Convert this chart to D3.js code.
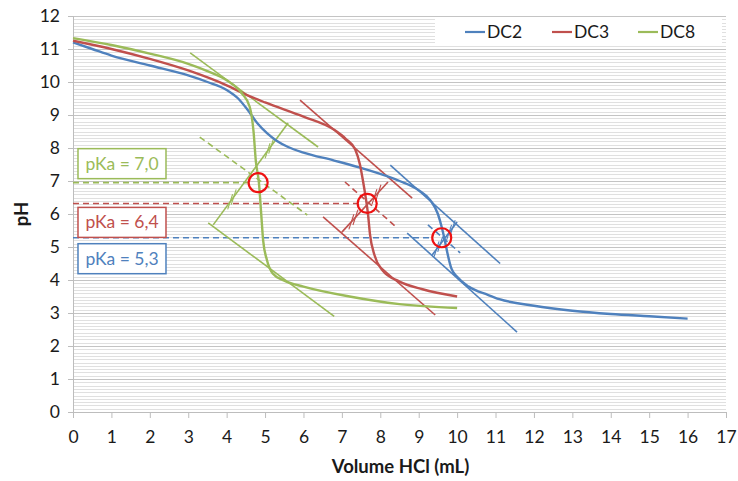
<!DOCTYPE html>
<html>
<head>
<meta charset="utf-8">
<script src="https://cdn.jsdelivr.net/npm/d3@7"></script>
<style>
  html, body { margin: 0; padding: 0; background: #fff; }
  svg { display: block; font-family: Lato, "Open Sans", sans-serif; }
</style>
</head>
<body>
<svg id="chart" width="738" height="481"></svg>
<script>
// ---------- data (volume HCl in mL, pH) ----------
const seriesNames = ["DC2", "DC3", "DC8"];
const xTicks = d3.range(0, 18, 1);
const yTicks = d3.range(0, 13, 1);

const dc2 = [[0,11.2],[0.5,11.0],[1,10.8],[2,10.5],[3,10.2],[3.5,10.0],[4,9.76],[4.3,9.5],[4.55,9.15],[4.8,8.75],[5.05,8.45],[5.3,8.22],[5.6,8.03],[6,7.86],[6.8,7.62],[7.6,7.36],[8.5,7.0],[9,6.72],[9.3,6.42],[9.5,6.0],[9.6,5.6],[9.68,5.2],[9.75,4.8],[9.85,4.35],[10,4.1],[10.3,3.8],[10.8,3.55],[11.1,3.42],[12,3.22],[13,3.07],[14,2.97],[15,2.9],[16,2.83]];
const dc3 = [[0,11.25],[1,11.0],[2,10.7],[3,10.35],[4,9.9],[4.5,9.62],[5,9.38],[6,8.95],[6.8,8.55],[7.1,8.28],[7.35,7.95],[7.47,7.5],[7.55,7.0],[7.62,6.5],[7.68,6.0],[7.73,5.4],[7.85,4.75],[8.05,4.3],[8.5,3.95],[9.1,3.72],[10,3.5]];
const dc8 = [[0,11.33],[1,11.12],[2,10.86],[3,10.55],[3.5,10.33],[4,10.05],[4.4,9.65],[4.6,9.25],[4.7,8.5],[4.76,7.6],[4.84,6.95],[4.9,6.0],[4.95,5.2],[5.05,4.6],[5.2,4.2],[5.5,3.98],[6,3.8],[7.2,3.5],[8.5,3.27],[10,3.15]];

// tangent construction (segment end points in data units)
const dc2Tangents = [[[8.26,7.48],[11.12,4.5]], [[8.7,5.42],[11.56,2.42]]];
const dc2Connector = [[9.35,4.76],[10.0,5.76]];
const dc2Mid = [[9.24,5.67],[10.08,4.82]];
const dc3Tangents = [[[5.91,9.45],[8.83,6.48]], [[6.51,5.91],[9.43,2.94]]];
const dc3Connector = [[7.0,5.45],[8.2,6.97]];
const dc3Mid = [[7.08,6.97],[8.44,5.58]];
const dc8Tangents = [[[3.05,10.88],[6.38,8.03]], [[3.52,5.73],[6.8,2.9]]];
const dc8Connector = [[3.65,5.67],[5.6,8.76]];
const dc8Mid = [[3.3,8.33],[6.1,5.97]];

// equivalence-half points (pKa) and labels
const pkaPoints = [[9.6,5.28],[7.66,6.32],[4.82,6.95]];
const pkaLabels = ["pKa = 5,3", "pKa = 6,4", "pKa = 7,0"];
const pkaBoxTop = [5.1, 6.2, 7.98]; // pH of label box top edge

// ---------- layout ----------
const colors = ["#4f81bd", "#c0504d", "#9bbb59"];
const svg = d3.select("#chart");
const x = d3.scaleLinear().domain([0, 17]).range([73, 726]);
const y = d3.scaleLinear().domain([0, 12]).range([412, 16]);

// gridlines
const minor = d3.range(0, 120).map(i => i / 10).filter(v => Math.abs(v - Math.round(v)) > 1e-6);
svg.append("g").selectAll("line").data(minor).join("line")
  .attr("x1", x(0)).attr("x2", x(17))
  .attr("y1", d => Math.round(y(d)) + 0.5).attr("y2", d => Math.round(y(d)) + 0.5)
  .attr("stroke", "#e0e0e0").attr("stroke-width", 1);
svg.append("g").selectAll("line").data(yTicks.slice(1)).join("line")
  .attr("x1", x(0)).attr("x2", x(17))
  .attr("y1", d => Math.round(y(d)) + 0.5).attr("y2", d => Math.round(y(d)) + 0.5)
  .attr("stroke", "#c4c4c4").attr("stroke-width", 1);

// axes
const yAxis = svg.append("g").attr("transform", `translate(${x(0)},0)`)
  .call(d3.axisLeft(y).tickValues(yTicks).tickSize(5).tickPadding(8).tickFormat(d3.format("d")));
const xAxis = svg.append("g").attr("transform", `translate(0,${y(0)})`)
  .call(d3.axisBottom(x).tickValues(xTicks).tickSize(6).tickPadding(13).tickFormat(d3.format("d")));
[yAxis, xAxis].forEach(g => {
  g.select(".domain").attr("stroke", "#bdbdbd");
  g.selectAll(".tick line").attr("stroke", "#bdbdbd");
  g.selectAll("text").attr("fill", "#1a1a1a").style("font-size", "17.5px").style("font-family", "Lato, sans-serif");
});

// axis titles
svg.append("text").attr("x", (x(0) + x(17)) / 2 + 1).attr("y", 473)
  .attr("text-anchor", "middle").style("font-weight", "bold").style("font-size", "18.5px")
  .attr("fill", "#1a1a1a").text("Volume HCl (mL)");
svg.append("text").attr("transform", `translate(28,${(y(0) + y(12)) / 2}) rotate(-90)`)
  .attr("text-anchor", "middle").style("font-weight", "bold").style("font-size", "18.5px")
  .attr("fill", "#1a1a1a").text("pH");

// legend box
const lg = svg.append("g");
lg.append("rect").attr("x", 435).attr("y", 18).attr("width", 287).attr("height", 27).attr("fill", "#fff");
const legendX = [465, 552, 638];
seriesNames.forEach((n, i) => {
  lg.append("line").attr("x1", legendX[i]).attr("x2", legendX[i] + 20).attr("y1", 32).attr("y2", 32)
    .attr("stroke", colors[i]).attr("stroke-width", 2.2);
  lg.append("text").attr("x", legendX[i] + 22).attr("y", 38).style("font-size", "17.5px")
    .attr("fill", "#1a1a1a").text(n);
});

const line = d3.line().x(d => x(d[0])).y(d => y(d[1]));
const curve = d3.line().x(d => x(d[0])).y(d => y(d[1])).curve(d3.curveMonotoneX);

// pKa dashed horizontals and label boxes
pkaPoints.forEach((p, i) => {
  svg.append("path").attr("d", line([[0, p[1]], [p[0] - 0.25, p[1]]]))
    .attr("stroke", colors[i]).attr("stroke-width", 1.6).attr("stroke-dasharray", "6,4").attr("fill", "none");
  const bx = x(0.13), by = y(pkaBoxTop[i]);
  svg.append("rect").attr("x", bx).attr("y", by).attr("width", 88).attr("height", 30)
    .attr("fill", "#fff").attr("stroke", colors[i]).attr("stroke-width", 1.5);
  svg.append("text").attr("x", bx + 44).attr("y", by + 21).attr("text-anchor", "middle")
    .style("font-size", "17.5px").attr("fill", colors[i]).text(pkaLabels[i]);
});

// tangent constructions
const constructions = [
  [dc2Tangents, dc2Connector, dc2Mid],
  [dc3Tangents, dc3Connector, dc3Mid],
  [dc8Tangents, dc8Connector, dc8Mid]
];
constructions.forEach(([tans, con, mid], i) => {
  const g = svg.append("g").attr("stroke", colors[i]).attr("fill", "none");
  tans.forEach(t => g.append("path").attr("d", line(t)).attr("stroke-width", 1.6));
  g.append("path").attr("d", line(con)).attr("stroke-width", 1.6);
  g.append("path").attr("d", line(mid)).attr("stroke-width", 1.6).attr("stroke-dasharray", "6,4");
  // hatch marks at quarter points of the connector
  const x0 = x(con[0][0]), y0 = y(con[0][1]), x1 = x(con[1][0]), y1 = y(con[1][1]);
  const len = Math.hypot(x1 - x0, y1 - y0), ux = (x1 - x0) / len, uy = (y1 - y0) / len;
  const ang = -72 * Math.PI / 180, hx = Math.cos(ang), hy = Math.sin(ang);
  [0.25, 0.75].forEach(t => {
    const cx = x0 + (x1 - x0) * t, cy = y0 + (y1 - y0) * t;
    [-3, 3].forEach(o => {
      const px = cx + ux * o, py = cy + uy * o;
      g.append("line").attr("x1", px - hx * 8).attr("y1", py - hy * 8)
        .attr("x2", px + hx * 8).attr("y2", py + hy * 8).attr("stroke-width", 1.1);
    });
  });
});

// titration curves
[dc2, dc3, dc8].forEach((s, i) => {
  svg.append("path").attr("d", curve(s)).attr("fill", "none")
    .attr("stroke", colors[i]).attr("stroke-width", 2.4);
});

// red circles at pKa points
svg.append("g").selectAll("circle").data(pkaPoints).join("circle")
  .attr("cx", d => x(d[0])).attr("cy", d => y(d[1])).attr("r", 9.5)
  .attr("fill", "none").attr("stroke", "#ee1111").attr("stroke-width", 2.2);
</script>
</body>
</html>
